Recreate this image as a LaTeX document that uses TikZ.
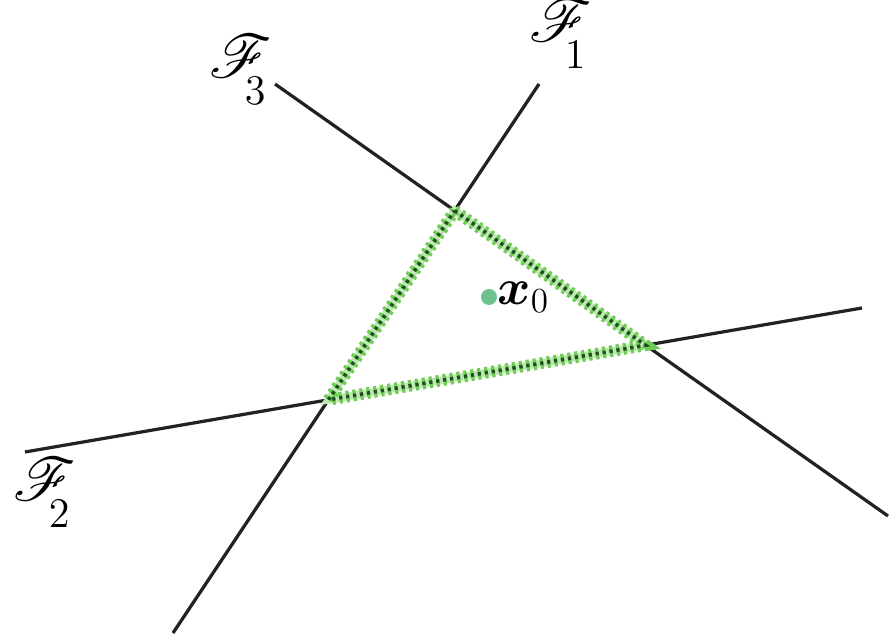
\documentclass[tikz,border=0pt]{standalone}
\usepackage{amsmath}
\usepackage{bm}
\usepackage{mathrsfs}
\usepackage{tikz}
\usetikzlibrary{
  calc,
  positioning
}
\definecolor{ink}{HTML}{222222}
\definecolor{mint}{HTML}{6CC28E}
\definecolor{leaf}{HTML}{6FCC55}
\definecolor{darkleaf}{HTML}{1F4F1F}
\newcommand{\facename}[1]{$\mathscr{F}_{\mkern-8mu\lower0.7ex\hbox{$\scriptstyle #1$}}$}
\tikzset{
  face/.style={draw=ink, line width=1.1pt},
  edgeunder/.style={draw=leaf!45, line width=2.6pt},
  edgeticks/.style={draw=leaf, line width=4pt, dash pattern=on 1.1pt off 1.3pt},
  edgecore/.style={draw=darkleaf, line width=1.2pt, dash pattern=on 1.1pt off 1.3pt},
  facelabel/.style={font=\huge, inner sep=1pt},
  pointlabel/.style={font=\LARGE, inner sep=1pt}
}

\begin{document}
\begin{tikzpicture}[x=0.012cm, y=-0.012cm]
  \useasboundingbox (0,0) rectangle (891,637);

  % ends of the three faces
  \coordinate (f1a) at (173,633);
  \coordinate (f1b) at (539,84);
  \coordinate (f2a) at (25,452);
  \coordinate (f2b) at (862,308);
  \coordinate (f3a) at (275,84);
  \coordinate (f3b) at (888,516);

  \draw[face] (f1a) -- (f1b);
  \draw[face] (f2a) -- (f2b);
  \draw[face] (f3a) -- (f3b);

  % vertices of the feasible region
  \coordinate (top) at (intersection of f1a--f1b and f3a--f3b);
  \coordinate (right) at (intersection of f2a--f2b and f3a--f3b);
  \coordinate (left) at (intersection of f1a--f1b and f2a--f2b);

  \draw[edgeunder] (top) -- (right) -- (left) -- cycle;
  \draw[edgeticks] (top) -- (right) -- (left) -- cycle;
  \draw[edgecore] (top) -- (right) -- (left) -- cycle;

  \node[facelabel] (lab1) at (558,34) {\facename{1}};
  \node[facelabel] (lab2) at (42,493) {\facename{2}};
  \node[facelabel] (lab3) at (238,70) {\facename{3}};

  \fill[mint] (489,297) circle (8);
  \node[pointlabel, anchor=west] (x0) at (494,297) {$\bm{x}_0$};
\end{tikzpicture}
\end{document}
